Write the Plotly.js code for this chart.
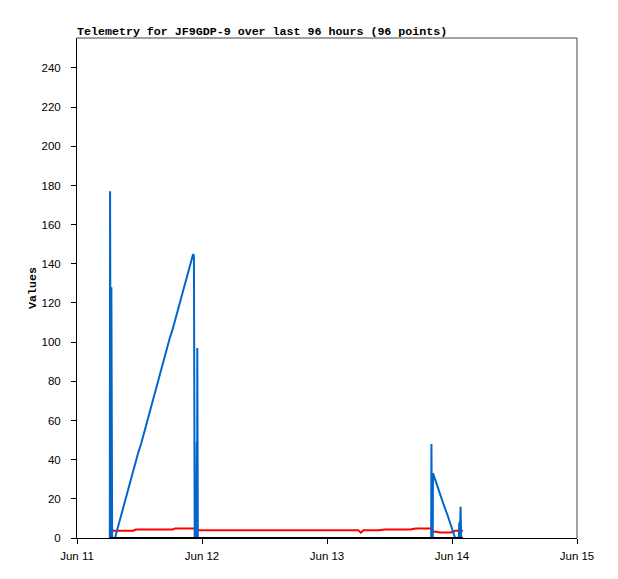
<!DOCTYPE html>
<html>
<head>
<meta charset="utf-8">
<script src="https://cdn.plot.ly/plotly-3.0.1.min.js"></script>
<style>html,body{margin:0;padding:0;background:#fff;}#chart{width:618px;height:579px;}</style>
</head>
<body>
<div id="chart"></div>
<script>
// Hours after 2024-06-11 00:00 for each telemetry sample
const hours = [
  6.30, 6.35, 6.50, 6.60, 6.75, 7.30,
  7.8, 8.3, 8.8, 9.3, 9.8, 10.3, 10.8, 11.3, 11.8, 12.3, 12.8, 13.3, 13.8, 14.3, 14.8,
  15.3, 15.8, 16.3, 16.8, 17.3, 17.8, 18.3, 18.8, 19.3, 19.8, 20.3, 20.8, 21.3, 21.8, 22.3,
  22.45, 22.6, 22.9, 23.0, 23.05, 23.1, 23.2,
  24, 25, 26, 27, 28, 29, 30, 31, 32, 33, 34, 35, 36, 37, 38, 39, 40, 41, 42, 43, 44, 45,
  46, 47, 48, 49, 50, 51, 52, 53, 54, 54.5, 55, 56, 57, 58, 59, 60, 61, 62, 63, 64, 65, 66, 67,
  68.0, 68.05, 68.15, 68.3, 68.35, 69.0, 69.7, 70.4, 71.1, 71.8, 72.6, 73.0, 73.3, 73.4,
  73.5, 73.65, 73.75, 74.1
];
const blueValues = [
  0, 177, 0, 128, 0, 0,
  5, 10, 15, 19, 24, 29, 34, 39, 44, 48, 53, 58, 63, 68, 73,
  77, 82, 87, 92, 97, 102, 106, 111, 116, 121, 126, 131, 135, 140, 145,
  144, 0, 0, 49, 0, 97, 0,
  0, 0, 0, 0, 0, 0, 0, 0, 0, 0, 0, 0, 0, 0, 0, 0, 0, 0, 0, 0, 0, 0,
  0, 0, 0, 0, 0, 0, 0, 0, 0, 0, 0, 0, 0, 0, 0, 0, 0, 0, 0, 0, 0, 0, 0,
  0, 48, 0, 0, 33, 28, 22, 17, 12, 6, 0, 0, 0, 8,
  0, 16, 0, 0
];
const redValues = [
  3.7, 3.7, 3.7, 3.7, 3.7, 3.7,
  3.7, 3.7, 3.7, 3.7, 3.7, 3.7, 3.7, 4.3, 4.3, 4.3, 4.3, 4.3, 4.3, 4.3, 4.3,
  4.3, 4.3, 4.3, 4.3, 4.3, 4.3, 4.3, 4.8, 4.8, 4.8, 4.8, 4.8, 4.8, 4.8, 4.8,
  4.8, 4.8, 4.8, 4.8, 4.8, 4.8, 3.9,
  3.9, 3.9, 3.9, 3.9, 3.9, 3.9, 3.9, 3.9, 3.9, 3.9, 3.9, 3.9, 3.9, 3.9, 3.9, 3.9, 3.9, 3.9, 3.9, 3.9, 3.9, 3.9,
  3.9, 3.9, 3.9, 3.9, 3.9, 3.9, 3.9, 3.9, 3.9, 2.7, 3.9, 3.9, 3.9, 3.9, 4.3, 4.3, 4.3, 4.3, 4.3, 4.3, 4.8, 4.8, 4.8,
  4.8, 4.8, 4.8, 3.2, 3.2, 3.2, 2.8, 2.8, 2.8, 2.8, 3.7, 3.7, 3.7, 3.7,
  3.7, 3.7, 3.7, 3.7
];
const blackValues = hours.map(() => 0);
const yTickValues = [0, 20, 40, 60, 80, 100, 120, 140, 160, 180, 200, 220, 240];

function stamp(h) {
  const m = Math.round(h * 60);
  const day = 11 + Math.floor(m / 1440);
  const hh = Math.floor((m % 1440) / 60);
  const mi = m % 60;
  const p = n => String(n).padStart(2, '0');
  return `2024-06-${p(day)} ${p(hh)}:${p(mi)}:00`;
}
const times = hours.map(stamp);

const traces = [
  {x: times, y: redValues, type: 'scatter', mode: 'lines', line: {color: '#ff0000', width: 2}, hoverinfo: 'skip'},
  {x: times, y: blueValues, type: 'scatter', mode: 'lines', line: {color: '#0066cc', width: 2}, hoverinfo: 'skip'},
  {x: times, y: blackValues, type: 'scatter', mode: 'lines', line: {color: '#000000', width: 2}, hoverinfo: 'skip'}
];

const mono = '"Liberation Mono", "DejaVu Sans Mono", monospace';
const sans = '"Liberation Sans", Arial, sans-serif';

const layout = {
  width: 618, height: 579,
  margin: {l: 77, r: 41, t: 38, b: 41},
  paper_bgcolor: '#ffffff', plot_bgcolor: '#ffffff',
  showlegend: false,
  title: {
    text: '<b>Telemetry for JF9GDP-9 over last 96 hours (96 points)</b>',
    font: {family: mono, size: 11.65, color: '#000'},
    xref: 'paper', x: 0, xanchor: 'left',
    yref: 'paper', y: 1, yanchor: 'bottom', pad: {b: 3}
  },
  xaxis: {
    type: 'date',
    range: ['2024-06-11 00:00:00', '2024-06-15 00:00:00'],
    dtick: 86400000, tick0: '2024-06-11',
    tickformat: '%b %d',
    showgrid: false, zeroline: false,
    showline: true, linecolor: '#000', linewidth: 1,
    ticks: 'outside', ticklen: 5, tickcolor: '#000', tickwidth: 1,
    ticklabelstandoff: 2,
    tickfont: {family: sans, size: 11.5, color: '#000'}
  },
  yaxis: {
    range: [0, 255.3],
    tickvals: yTickValues,
    showgrid: false, zeroline: false,
    showline: true, linecolor: '#000', linewidth: 1,
    ticks: 'outside', ticklen: 5, tickcolor: '#000', tickwidth: 1,
    ticklabelstandoff: 8,
    tickfont: {family: sans, size: 11.5, color: '#000'},
    title: {text: '<b>Values</b>', font: {family: mono, size: 11.65, color: '#000'}, standoff: 2}
  },
  shapes: [
    {type: 'line', xref: 'paper', yref: 'paper', x0: 0, x1: 1, y0: 1, y1: 1, line: {color: '#444', width: 1}},
    {type: 'line', xref: 'paper', yref: 'paper', x0: 1, x1: 1, y0: 0, y1: 1, line: {color: '#444', width: 1}}
  ]
};

Plotly.newPlot('chart', traces, layout, {displayModeBar: false, staticPlot: true});
</script>
</body>
</html>
